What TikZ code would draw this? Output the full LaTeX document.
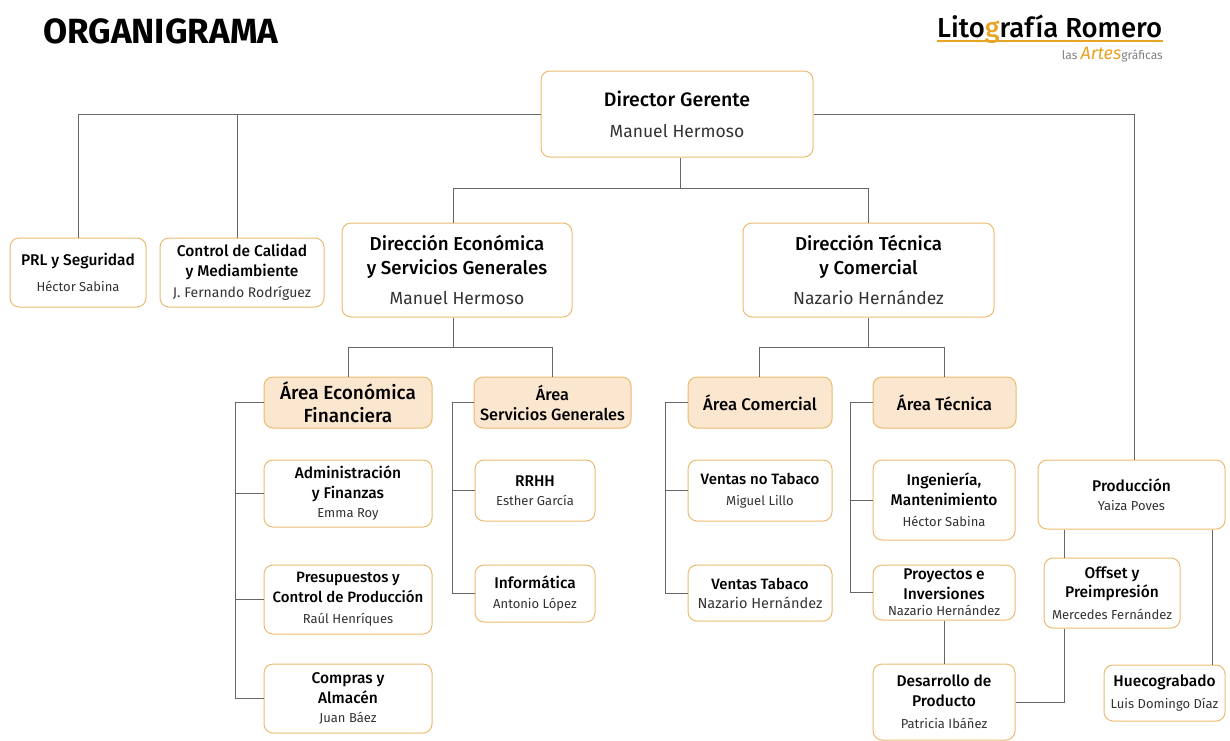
\documentclass[tikz,border=0pt]{standalone}
\usepackage{fontspec}
\setmainfont{Fira Sans}[BoldFont={Fira Sans Medium}]
\newfontfamily\heavyfont{Fira Sans Bold}
\usetikzlibrary{calc}
\definecolor{boxline}{HTML}{EDBB70}
\definecolor{boxfill}{HTML}{FBE7CF}
\definecolor{linegray}{HTML}{666666}
\definecolor{namegray}{HTML}{333333}
\definecolor{logoorange}{HTML}{E8A425}
\newcommand{\who}[1]{{\fontsize{13}{15}\selectfont\color{namegray}#1}}
\newcommand{\whobig}[1]{{\fontsize{17.5}{20}\selectfont\color{namegray}#1}}
\begin{document}
\begin{tikzpicture}[
    x=1pt, y=-1pt,
    unit/.style={align=center, rectangle, rounded corners=9pt, draw=boxline, fill=white, line width=1pt, inner sep=0pt, font=\fontsize{15.5}{19.5}\selectfont},
    top/.style={unit, font=\fontsize{18.7}{24}\selectfont},
    area/.style={unit, fill=boxfill, font=\fontsize{16.8}{22}\selectfont},
    link/.style={draw=linegray, line width=0.9pt}
]
    \useasboundingbox (0,0) rectangle (1230,740);

    % Heading and logo
    \node[anchor=base west, inner sep=0pt, font=\fontsize{35}{35}\selectfont\heavyfont] (Title) at (43,43) {ORGANIGRAMA};
    \node[anchor=base west, inner sep=0pt, font=\fontsize{27.5}{27.5}\selectfont\bfseries] (Logo) at (937,37) {Lito{\color{logoorange}g}rafía Romero};
    \coordinate (LogoR) at (1163,41);
    \draw[logoorange, line width=1.5pt] (Logo.base west |- LogoR) -- (LogoR);
    \node[anchor=base east, inner sep=0pt, text=gray, font=\fontsize{12}{12}\selectfont] (Sub) at (1163,59) {las {\color{logoorange}\itshape\fontsize{18}{18}\selectfont Artes}gráficas};

    % Top level
    \node[top, font=\fontsize{19.5}{24}\selectfont, minimum width=272pt, minimum height=86pt] (Dir) at (677,114) {\textbf{Director Gerente}\\[7pt]\whobig{Manuel Hermoso}};
    \node[unit, minimum width=136pt, minimum height=69pt] (PRL) at (78,272.5) {\textbf{PRL y Seguridad}\\[6pt]\who{Héctor Sabina}};
    \node[unit, minimum width=164pt, minimum height=69pt] (Cal) at (242,272.5) {\textbf{Control de Calidad}\\\textbf{y Mediambiente}\\[2pt]{\fontsize{14}{15}\selectfont\color{namegray}J. Fernando Rodríguez}};
    \node[top, minimum width=230pt, minimum height=94pt] (Eco) at (457,270) {\textbf{Dirección Económica}\\\textbf{y Servicios Generales}\\[6pt]\whobig{Manuel Hermoso}};
    \node[top, minimum width=251pt, minimum height=94pt] (Tec) at (868.5,270) {\textbf{Dirección Técnica}\\\textbf{y Comercial}\\[6pt]\whobig{Nazario Hernández}};

    % Areas
    \node[area, font=\fontsize{19}{23}\selectfont, minimum width=168pt, minimum height=51pt] (AEco) at (348,402.5) {\textbf{Área Económica}\\\textbf{Financiera}};
    \node[area, font=\fontsize{16.3}{22}\selectfont, minimum width=157pt, minimum height=51pt] (ASer) at (552.5,402.5) {\textbf{Área}\\[-2pt]\textbf{Servicios Generales}};
    \node[area, minimum width=144pt, minimum height=51pt] (ACom) at (760,402.5) {\textbf{Área Comercial}};
    \node[area, minimum width=143pt, minimum height=51pt] (ATec) at (944.5,402.5) {\textbf{Área Técnica}};

    % Economic side
    \node[unit, minimum width=168pt, minimum height=67pt] (Adm) at (348,493.5) {\textbf{Administración}\\\textbf{y Finanzas}\\\who{Emma Roy}};
    \node[unit, font=\fontsize{15}{19.5}\selectfont, minimum width=168pt, minimum height=69pt] (Pre) at (348,599.5) {\textbf{Presupuestos y}\\\textbf{Control de Producción}\\[2pt]\who{Raúl Henríques}};
    \node[unit, minimum width=168pt, minimum height=69pt] (Com) at (348,698.5) {\textbf{Compras y}\\\textbf{Almacén}\\\who{Juan Báez}};
    \node[unit, minimum width=120pt, minimum height=61pt] (RH) at (535,490.5) {\textbf{RRHH}\\\who{Esther García}};
    \node[unit, minimum width=120pt, minimum height=57pt] (Inf) at (535,593.5) {\textbf{Informática}\\\who{Antonio López}};

    % Sales and technical side
    \node[unit, font=\fontsize{15}{19}\selectfont, minimum width=144pt, minimum height=61pt] (VNo) at (760,490.5) {\textbf{Ventas no Tabaco}\\[2pt]\who{Miguel Lillo}};
    \node[unit, font=\fontsize{15}{19}\selectfont, minimum width=144pt, minimum height=56pt] (VTa) at (760,593) {\textbf{Ventas Tabaco}\\{\fontsize{14.5}{15}\selectfont\color{namegray}Nazario Hernández}};
    \node[unit, minimum width=142pt, minimum height=80pt] (Ing) at (944,500) {\textbf{Ingeniería,}\\\textbf{Mantenimiento}\\[2pt]\who{Héctor Sabina}};
    \node[unit, minimum width=142pt, minimum height=55pt] (Pro) at (944,592.5) {\textbf{Proyectos e}\\\textbf{Inversiones}\\[-3pt]\who{Nazario Hernández}};
    \node[unit, minimum width=142pt, minimum height=76pt] (Des) at (944,702) {\textbf{Desarrollo de}\\\textbf{Producto}\\[3pt]\who{Patricia Ibáñez}};

    % Production
    \node[unit, minimum width=187pt, minimum height=69pt] (Prod) at (1131.5,494.5) {\textbf{Producción}\\\who{Yaiza Poves}};
    \node[unit, minimum width=136pt, minimum height=70pt] (Off) at (1112,593) {\textbf{Offset y}\\\textbf{Preimpresión}\\[2pt]\who{Mercedes Fernández}};
    \node[unit, minimum width=121pt, minimum height=56pt] (Hue) at (1164.5,693) {\textbf{Huecograbado}\\[3pt]\who{Luis Domingo Díaz}};

    % Connectors of the top level
    \draw[link] (Dir.west) -| (PRL.north);
    \draw[link] (Dir.west) -| ($(Cal.north)+(-5,0)$);
    \draw[link] (Dir.east) -| ($(Prod.north)+(2.5,0)$);
    \coordinate (J1) at ($(Dir.south)+(3,31)$);
    \draw[link] ($(Dir.south)+(3,0)$) -- (J1);
    \draw[link] (J1) -| ($(Eco.north)+(-4,0)$);
    \draw[link] (J1) -| (Tec.north);

    % Down to the areas
    \coordinate (J2) at ($(Eco.south)+(-4,30)$);
    \draw[link] ($(Eco.south)+(-4,0)$) -- (J2);
    \draw[link] (J2) -| (AEco.north);
    \draw[link] (J2) -| (ASer.north);
    \coordinate (J3) at ($(Tec.south)+(0,30)$);
    \draw[link] (Tec.south) -- (J3);
    \draw[link] (J3) -| ($(ACom.north)+(-1,0)$);
    \draw[link] (J3) -| (ATec.north);

    % Area combs
    \coordinate (C1) at ($(AEco.west)+(-28,0)$);
    \draw[link] (AEco.west) -- (C1) |- (Com.west);
    \draw[link] (C1 |- Adm.west) -- (Adm.west);
    \draw[link] (C1 |- Pre.west) -- (Pre.west);
    \coordinate (C2) at ($(ASer.west)+(-21,0)$);
    \draw[link] (ASer.west) -- (C2) |- (Inf.west);
    \draw[link] (C2 |- RH.west) -- (RH.west);
    \coordinate (C3) at ($(ACom.west)+(-22,0)$);
    \draw[link] (ACom.west) -- (C3) |- (VTa.west);
    \draw[link] (C3 |- VNo.west) -- (VNo.west);
    \coordinate (C4) at ($(ATec.west)+(-22,0)$);
    \draw[link] (ATec.west) -- (C4) |- (Pro.west);
    \draw[link] (C4 |- Ing.west) -- (Ing.west);

    % Lower right
    \draw[link] (Pro.south) -- (Des.north);
    \coordinate (P1) at (1064,0);
    \draw[link] (P1 |- Prod.south) -- (P1 |- Off.north);
    \draw[link] (P1 |- Off.south) |- (Des.east);
    \coordinate (P2) at (1212,0);
    \draw[link] (P2 |- Prod.south) -- (P2 |- Hue.north);
\end{tikzpicture}
\end{document}
